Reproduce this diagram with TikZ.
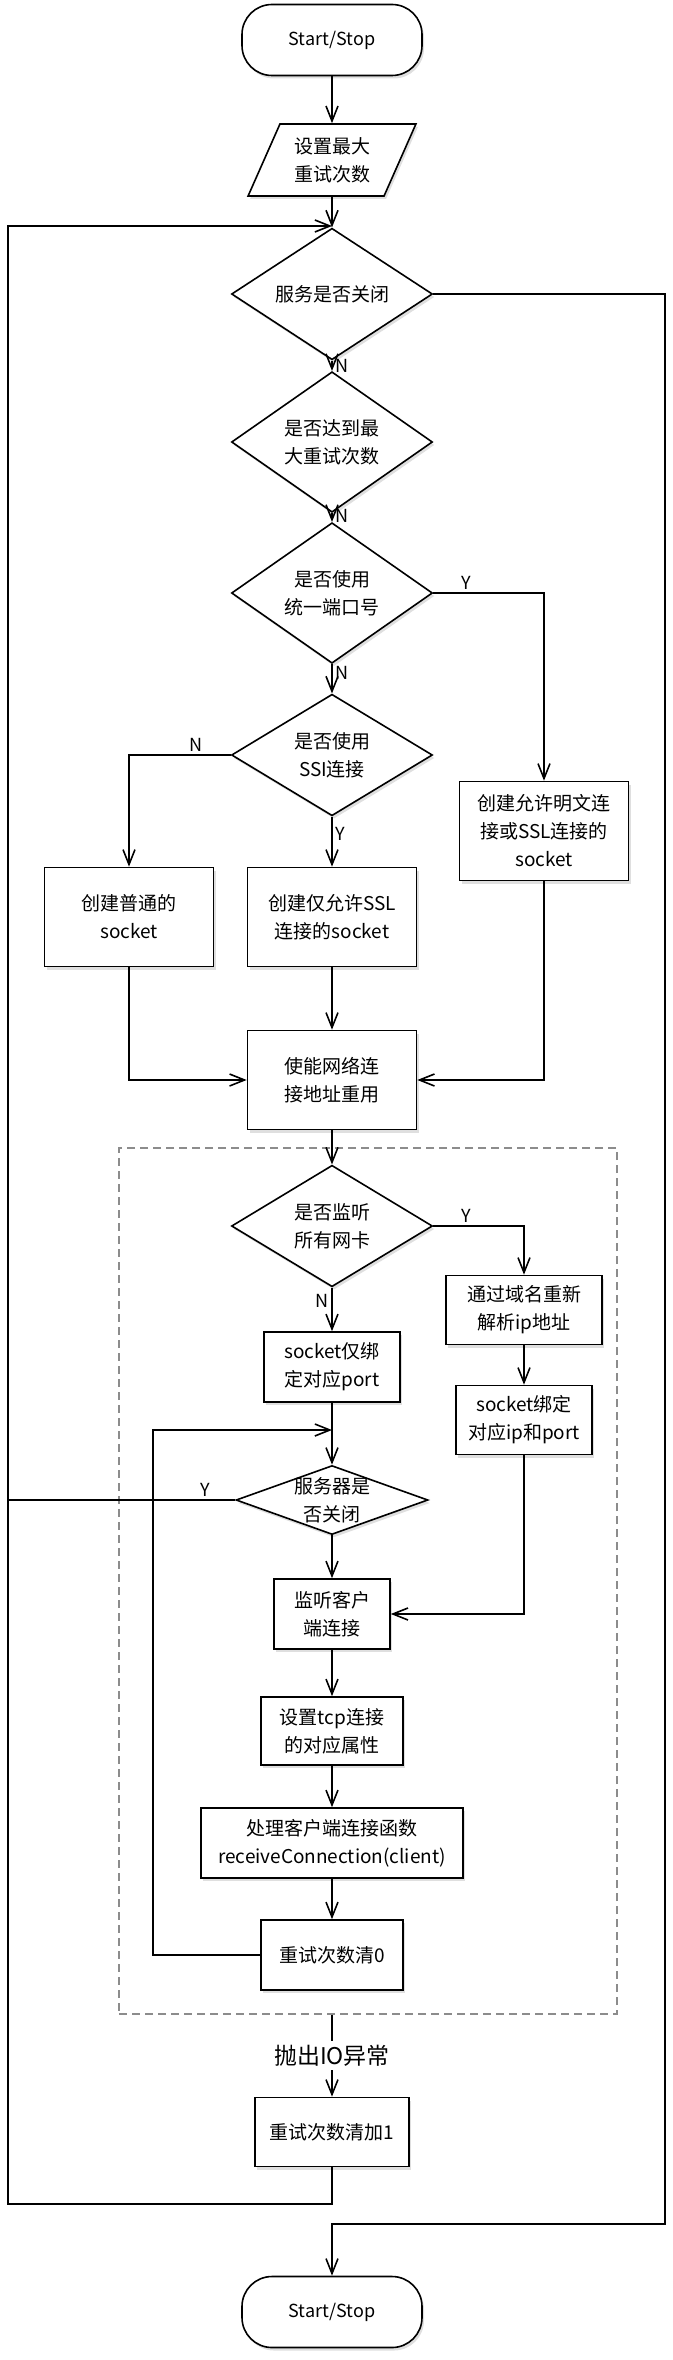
\documentclass[tikz,border=0pt]{standalone}
\usepackage{fontspec}
\setmainfont{Noto Sans CJK SC}
\usetikzlibrary{shapes.geometric,shadows,arrows.meta}

\begin{document}
\begin{tikzpicture}[x=1pt,y=-1pt]
\tikzstyle{shade}=[drop shadow={shadow xshift=2pt, shadow yshift=-3pt, opacity=0.25}]
\tikzstyle{terminal}=[draw, rectangle, rounded corners=30pt, minimum width=180pt, minimum height=71pt, fill=white, line width=1.6pt, shade, font=\fontsize{18}{26}\selectfont]
\tikzstyle{io}=[draw, trapezium, trapezium left angle=65, trapezium right angle=115, trapezium stretches=true, minimum width=168pt, minimum height=72pt, fill=white, line width=1.6pt, shade, align=center]
\tikzstyle{decision}=[draw, diamond, inner sep=0pt, minimum width=201pt, minimum height=100pt, fill=white, line width=1.6pt, shade, align=center]
\tikzstyle{process}=[draw, rectangle, minimum width=169pt, minimum height=99pt, fill=white, line width=1.6pt, shade, align=center]
\tikzstyle{group}=[draw=gray!90, rectangle, dash pattern=on 8pt off 5pt, line width=1.3pt]
\tikzstyle{line}=[draw, line width=1.6pt, -{Straight Barb[length=15pt, width=12pt, line width=1.6pt]}]
\tikzstyle{plain}=[draw, line width=1.6pt]
\tikzstyle{yn}=[font=\fontsize{18}{22}\selectfont, inner sep=3pt]

\useasboundingbox (0,0) rectangle (672,2360);
\fontsize{19}{28}\selectfont

% Define blocks
\node[terminal] (start) at (332,40) {Start/Stop};
\node[io] (maxretry) at (332,160) {设置最大\\重试次数};
\node[decision, minimum height=71pt] (closed1) at (332,294) {服务是否关闭};
\node[decision] (maxreached) at (332,442) {是否达到最\\大重试次数};
\node[decision] (unified) at (332,593) {是否使用\\统一端口号};
\node[decision, minimum height=98pt] (usessl) at (332,755) {是否使用\\SSI连接};
\node[process] (mixed) at (544,831) {创建允许明文连\\接或SSL连接的\\socket};
\node[process] (common) at (129,917) {创建普通的\\socket};
\node[process] (sslonly) at (332,917) {创建仅允许SSL\\连接的socket};
\node[process] (reuse) at (332,1080) {使能网络连\\接地址重用};

% Listening loop
\node[group, minimum width=498pt, minimum height=866pt] (loopbox) at (368,1581) {};
\node[decision] (listenall) at (332,1226) {是否监听\\所有网卡};
\node[process, minimum width=156pt, minimum height=69pt] (resolve) at (524,1310) {通过域名重新\\解析ip地址};
\node[process, minimum width=136pt, minimum height=69pt] (bindip) at (524,1420) {socket绑定\\对应ip和port};
\node[process, minimum width=136pt, minimum height=70pt] (bindport) at (332,1367) {socket仅绑\\定对应port};
\node[decision, minimum width=192pt, minimum height=69pt, label={[align=center]center:服务器是\\否关闭}] (closed2) at (332,1500) {};
\node[process, minimum width=116pt, minimum height=70pt] (listen) at (332,1614) {监听客户\\端连接};
\node[process, minimum width=142pt, minimum height=68pt] (tcpopt) at (332,1731) {设置tcp连接\\的对应属性};
\node[process, minimum width=262pt, minimum height=70pt] (handle) at (332,1843) {处理客户端连接函数\\receiveConnection(client)};
\node[process, minimum width=142pt, minimum height=70pt] (reset) at (332,1955) {重试次数清0};

\node[process, minimum width=154pt, minimum height=69pt] (retry) at (332,2132) {重试次数清加1};
\node[terminal] (stop) at (332,2312) {Start/Stop};

% Corner points
\coordinate (outerbot) at (8,2204);
\coordinate (outertop) at (8,226);
\coordinate (rightbot) at (665,2224);
\coordinate (innerleft) at (153,1430);

% Main flow
\draw[line] (start) -- (maxretry);
\draw[line] (maxretry) -- (closed1);
\draw[line] (closed1) -- node[yn, right] {N} (maxreached);
\draw[line] (maxreached) -- node[yn, pos=0.3, right] {N} (unified);
\draw[line] (unified) -- node[yn, pos=0.3, right] {N} (usessl);
\draw[line] (unified.east) -| node[yn, pos=0.15, above] {Y} (mixed.north);
\draw[line] (usessl.west) -| node[yn, pos=0.17, above] {N} (common.north);
\draw[line] (usessl) -- node[yn, pos=0.35, right] {Y} (sslonly);
\draw[line] (common.south) |- (reuse.west);
\draw[line] (sslonly) -- (reuse);
\draw[line] (mixed.south) |- (reuse.east);
\draw[line] (reuse) -- (listenall);

% Inside the loop
\draw[line] (listenall.east) -| node[yn, pos=0.18, above] {Y} (resolve.north);
\draw[line] (listenall) -- node[yn, pos=0.3, left] {N} (bindport);
\draw[line] (resolve) -- (bindip);
\draw[line] (bindip.south) |- (listen.east);
\draw[line] (bindport) -- (closed2);
\draw[line] (closed2) -- (listen);
\draw[line] (listen) -- (tcpopt);
\draw[line] (tcpopt) -- (handle);
\draw[line] (handle) -- (reset);
\draw[line] (reset.west) -| (innerleft) -- (innerleft -| bindport.south);
\draw[plain] (closed2.west) -- node[yn, pos=0.13, above] {Y} (closed2.west -| outerbot);

% Exception and retry
\draw[line] (loopbox.south -| retry.north) -- node[fill=white, inner sep=4pt, font=\fontsize{23}{28}\selectfont] {抛出IO异常} (retry);
\draw[line] (retry.south) |- (outerbot) -- (outertop) -- (outertop -| maxretry.south);
\draw[line] (closed1.east) -| (rightbot) -| (stop.north);
\end{tikzpicture}
\end{document}
